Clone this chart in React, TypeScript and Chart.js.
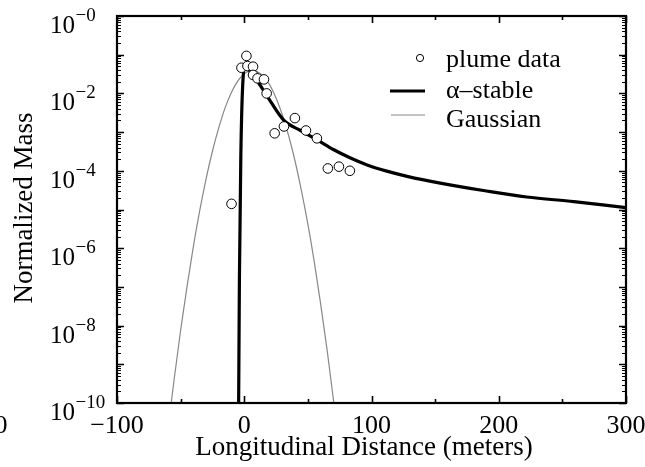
import React, { useEffect, useRef } from "react";
import { Chart, registerables } from "chart.js";

Chart.register(...registerables);

// plume data (scatter)
const plumeX = [-10, -2.2, 1.7, 2.5, 6.9, 6.9, 10.4, 15.5, 17.6, 23.9, 31.2, 39.8, 48.5, 57.1, 65.7, 74.4, 83];
const plumeY = [1.4e-5, 0.046, 0.093, 0.051, 0.049, 0.03, 0.0245, 0.023, 0.01, 0.00093, 0.0014, 0.0023, 0.0011, 0.00069, 0.000115, 0.000128, 0.0001];

// alpha-stable fit
const alphaX = [-4.4, -3.8, -2.7, -1.4, 1, 5, 11.6, 18.2, 31.2, 44.3, 57.4, 70.4, 83.5, 96.6, 112, 128, 154, 188, 222, 259, 295, 300];
const alphaY = [1e-10, 1.6e-7, 2.3e-4, 1.2e-2, 5.5e-2, 3.5e-2, 1.8e-2, 8.3e-3, 2.0e-3, 1.1e-3, 6.3e-4, 3.5e-4, 2.15e-4, 1.42e-4, 9.8e-5, 7.2e-5, 4.8e-5, 3.1e-5, 2.1e-5, 1.6e-5, 1.17e-5, 1.12e-5];

// Gaussian fit
const gaussX = [-57.4, -55, -50, -45, -40, -35, -30, -25, -20, -15, -10, -5, 0, 6.5, 10, 15, 20, 25, 30, 35, 40, 45, 50, 55, 60, 65, 70.4];
const gaussY = [1e-10, 4.3e-10, 7.6e-9, 1.0e-7, 1.1e-6, 9.3e-6, 6.2e-5, 3.2e-4, 1.3e-3, 4.3e-3, 1.07e-2, 2.1e-2, 3.2e-2, 4.0e-2, 3.7e-2, 2.8e-2, 1.66e-2, 7.6e-3, 2.75e-3, 7.8e-4, 1.74e-4, 3.0e-5, 4.2e-6, 4.5e-7, 3.7e-8, 2.5e-9, 1e-10];

// axis ticks
const xMajorTicks = [-100, 0, 100, 200, 300];
const xMinorTicks = [-50, 50, 150, 250];
const xTickLabels = ["\u2212100", "0", "100", "200", "300"];
const yLabelExponents = [0, -2, -4, -6, -8, -10];
const legendLabels = ["plume data", "\u03b1\u2013stable", "Gaussian"];

const FONT = "'Liberation Serif', 'Times New Roman', serif";

const overlay = {
  id: "overlay",
  afterDraw(chart: any) {
    const ctx = chart.ctx;
    const xs = chart.scales.x;
    const ys = chart.scales.y;
    const a = chart.chartArea;
    ctx.save();
    ctx.fillStyle = "#000";
    ctx.strokeStyle = "#000";

    // ticks (inside) on all four sides
    ctx.lineWidth = 1.6;
    const vt = (v: number, len: number) => {
      const px = Math.round(xs.getPixelForValue(v)) + 0.5;
      ctx.beginPath();
      ctx.moveTo(px, a.bottom);
      ctx.lineTo(px, a.bottom - len);
      ctx.moveTo(px, a.top);
      ctx.lineTo(px, a.top + len);
      ctx.stroke();
    };
    xMajorTicks.forEach((v) => vt(v, 7));
    xMinorTicks.forEach((v) => vt(v, 4));
    const ht = (v: number, len: number, lw: number) => {
      const py = Math.round(ys.getPixelForValue(v)) + 0.5;
      ctx.lineWidth = lw;
      ctx.beginPath();
      ctx.moveTo(a.left, py);
      ctx.lineTo(a.left + len, py);
      ctx.moveTo(a.right, py);
      ctx.lineTo(a.right - len, py);
      ctx.stroke();
    };
    for (let e = -10; e <= 0; e++) {
      ht(Math.pow(10, e), 7, 1.6);
      if (e < 0) for (let k = 2; k <= 9; k++) ht(k * Math.pow(10, e), 4, 1);
    }

    // frame
    ctx.lineWidth = 2.2;
    ctx.strokeRect(a.left, a.top, a.right - a.left, a.bottom - a.top);

    // x tick labels
    ctx.font = `26px ${FONT}`;
    ctx.textAlign = "center";
    ctx.textBaseline = "alphabetic";
    xMajorTicks.forEach((v, i) => {
      ctx.fillText(xTickLabels[i], xs.getPixelForValue(v), 433);
    });

    // stray clipped label at left edge
    ctx.textAlign = "right";
    ctx.fillText("0", 7.5, 433);

    // y tick labels 10^e
    ctx.textAlign = "left";
    yLabelExponents.forEach((e) => {
      const py = ys.getPixelForValue(Math.pow(10, e));
      ctx.font = `25px ${FONT}`;
      ctx.fillText("10", 50, py + 17);
      const w = ctx.measureText("10").width;
      ctx.font = `19px ${FONT}`;
      ctx.fillText("\u2212" + Math.abs(e), 50 + w + 0.5, py + 5);
    });

    // axis titles
    ctx.font = `27px ${FONT}`;
    ctx.textAlign = "center";
    ctx.fillText("Longitudinal Distance (meters)", 364, 455);
    ctx.save();
    ctx.translate(32, 208);
    ctx.rotate(-Math.PI / 2);
    ctx.fillText("Normalized Mass", 0, 0);
    ctx.restore();

    // legend
    ctx.font = `26px ${FONT}`;
    ctx.textAlign = "left";
    ctx.fillText(legendLabels[0], 446, 67);
    ctx.fillText(legendLabels[1], 446, 97.5);
    ctx.fillText(legendLabels[2], 446, 127);
    ctx.beginPath();
    ctx.arc(420, 58, 3.6, 0, Math.PI * 2);
    ctx.fillStyle = "#fff";
    ctx.fill();
    ctx.lineWidth = 1;
    ctx.stroke();
    ctx.lineWidth = 3.2;
    ctx.beginPath();
    ctx.moveTo(390, 91);
    ctx.lineTo(425, 91);
    ctx.stroke();
    ctx.strokeStyle = "#888";
    ctx.lineWidth = 1.2;
    ctx.beginPath();
    ctx.moveTo(391, 115);
    ctx.lineTo(425, 115);
    ctx.stroke();
    ctx.restore();
  },
};

export default function App() {
  const ref = useRef<HTMLCanvasElement | null>(null);
  useEffect(() => {
    document.body.style.margin = "0";
    if (!ref.current) return;
    const chart = new Chart(ref.current, {
      type: "scatter",
      data: {
        datasets: [
          {
            label: legendLabels[0],
            data: plumeX.map((x, i) => ({ x, y: plumeY[i] })),
            pointRadius: 4.8,
            pointBackgroundColor: "#fff",
            pointBorderColor: "#000",
            pointBorderWidth: 1,
            showLine: false,
          },
          {
            label: legendLabels[1],
            data: alphaX.map((x, i) => ({ x, y: alphaY[i] })),
            showLine: true,
            borderColor: "#000",
            borderWidth: 3.2,
            pointRadius: 0,
            cubicInterpolationMode: "monotone",
          },
          {
            label: legendLabels[2],
            data: gaussX.map((x, i) => ({ x, y: gaussY[i] })),
            showLine: true,
            borderColor: "#888",
            borderWidth: 1.2,
            pointRadius: 0,
            cubicInterpolationMode: "monotone",
          },
        ],
      },
      options: {
        animation: false,
        responsive: false,
        devicePixelRatio: 1,
        layout: { padding: { left: 117, top: 16, right: 19, bottom: 64 } },
        plugins: { legend: { display: false }, tooltip: { enabled: false } },
        scales: {
          x: { type: "linear", min: -100, max: 300, display: false },
          y: { type: "logarithmic", min: 1e-10, max: 1, display: false },
        },
      },
      plugins: [overlay],
    });
    return () => chart.destroy();
  }, []);
  return <canvas ref={ref} width={645} height={467} style={{ display: "block" }} />;
}
